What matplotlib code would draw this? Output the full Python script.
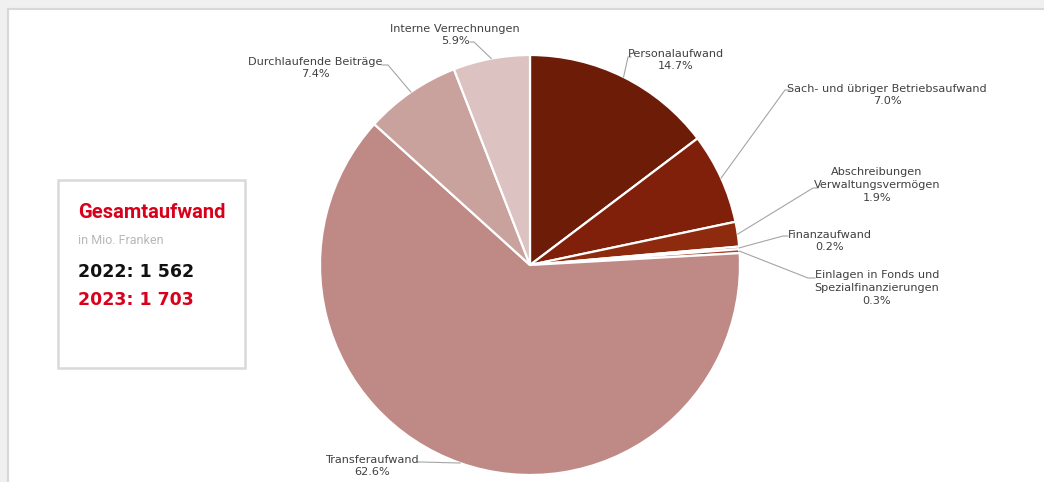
import numpy as np
import matplotlib.pyplot as plt
from matplotlib.patches import Rectangle

# Aufwand 2023 in Prozent, im Uhrzeigersinn ab 12 Uhr
categories = [
    "Personalaufwand",
    "Sach- und übriger Betriebsaufwand",
    "Abschreibungen\nVerwaltungsvermögen",
    "Finanzaufwand",
    "Einlagen in Fonds und\nSpezialfinanzierungen",
    "Transferaufwand",
    "Durchlaufende Beiträge",
    "Interne Verrechnungen",
]
shares = [14.7, 7.0, 1.9, 0.2, 0.3, 62.6, 7.4, 5.9]
colors = ["#6c1c07", "#80200a", "#8e2a0e", "#9c3516", "#a8402a",
          "#bf8a86", "#c9a29e", "#dcc3c1"]

total_label = "Gesamtaufwand"
unit_label = "in Mio. Franken"
totals = {"2022": "1 562", "2023": "1 703"}

W, H = 1044, 482
RED = "#d9001b"
FONT = ["Liberation Sans Narrow", "DejaVu Sans"]


def py(y):
    # Pixel von oben -> Datenkoordinate von unten
    return H - y


fig = plt.figure(figsize=(W / 100, H / 100), dpi=100, facecolor="#f0f0f0")
ax = fig.add_axes([0, 0, 1, 1])

# weisses Panel
ax.add_patch(Rectangle((8, -10), W, py(9) + 10, facecolor="white",
                       edgecolor="#d8d8d8", linewidth=1.5, zorder=0))

cx, cy, r = 530, py(265), 210
wedges, _ = ax.pie(shares, colors=colors, startangle=90, counterclock=False,
                   center=(cx, cy), radius=r,
                   wedgeprops=dict(edgecolor="white", linewidth=1.6))

ax.set_xlim(0, W)
ax.set_ylim(0, H)
ax.set_aspect("equal")
ax.axis("off")

# Beschriftung: Textmitte, Knickpunkt, Textkante (in Pixel von oben)
label_pos = [
    ((676, 60), (628, 57), (631, 57)),
    ((887, 95), (785, 90), (790, 90)),
    ((877, 185), (813, 188), (818, 188)),
    ((830, 241), (783, 236), (788, 236)),
    ((877, 288), (808, 278), (815, 278)),
    ((372, 466), (421, 462), (418, 462)),
    ((315, 68), (388, 65), (382, 65)),
    ((455, 35), (474, 42), (470, 42)),
]

for w, name, val, (tpos, elbow, edge) in zip(wedges, categories, shares, label_pos):
    ang = np.deg2rad((w.theta1 + w.theta2) / 2)
    ax_x = cx + r * np.cos(ang)
    ax_y = cy + r * np.sin(ang)
    ax.plot([ax_x, elbow[0], edge[0]], [ax_y, py(elbow[1]), py(edge[1])],
            color="#a5a5a5", linewidth=0.8, zorder=3)
    ax.text(tpos[0], py(tpos[1]), f"{name}\n{val:.1f}%", ha="center",
            va="center", fontsize=8.1, color="#404040", family=FONT,
            linespacing=1.35)

# Infobox links
ax.add_patch(Rectangle((58, py(368)), 187, 188, facecolor="white",
                       edgecolor="#d9d9d9", linewidth=1.8, zorder=1))
ax.text(78, py(212), total_label, fontsize=14.5, fontweight="bold", color=RED,
        family=["Roboto", "DejaVu Sans"], va="center", ha="left")
ax.text(78, py(240), unit_label, fontsize=9, color="#b8b8b8",
        family=["Roboto", "DejaVu Sans"], va="center", ha="left")
for (year, val), col, y in zip(totals.items(), ["#111111", RED], [272, 300]):
    ax.text(78, py(y), f"{year}: {val}", fontsize=12.5, fontweight="bold",
            color=col, family=["DejaVu Sans"], va="center", ha="left")

fig.savefig("out.png", dpi=100, facecolor=fig.get_facecolor())
